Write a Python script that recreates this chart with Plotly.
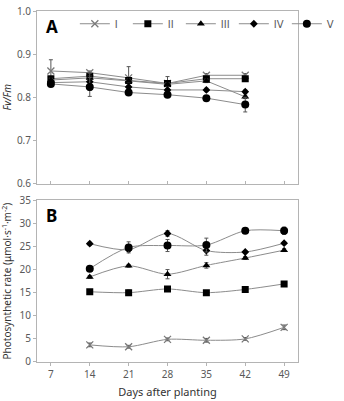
import plotly.graph_objects as go

# ---------------- data ----------------
days = [7, 14, 21, 28, 35, 42, 49]
series_names = ["I", "II", "III", "IV", "V"]

# Panel A: Fv/Fm (days 7..42)
days_a = [7, 14, 21, 28, 35, 42]
fvfm_I = [0.861, 0.857, 0.845, 0.832, 0.851, 0.851]
fvfm_II = [0.843, 0.849, 0.839, 0.832, 0.843, 0.843]
fvfm_III = [0.840, 0.845, 0.838, 0.830, 0.838, 0.801]
fvfm_IV = [0.834, 0.836, 0.824, 0.817, 0.817, 0.813]
fvfm_V = [0.831, 0.824, 0.811, 0.806, 0.798, 0.783]
fvfm_err_I = [0.026, 0.004, 0.026, 0.016, 0.004, 0.004]
fvfm_err_II = [0.004, 0.004, 0.004, 0.004, 0.004, 0.004]
fvfm_err_III = [0.004, 0.004, 0.004, 0.004, 0.004, 0.004]
fvfm_err_IV = [0.004, 0.020, 0.004, 0.004, 0.004, 0.004]
fvfm_err_V = [0.004, 0.022, 0.005, 0.006, 0.004, 0.017]

# Panel B: photosynthetic rate (days 14..49)
days_b = [14, 21, 28, 35, 42, 49]
pn_I = [3.7, 3.3, 4.9, 4.7, 5.0, 7.5]
pn_II = [15.2, 15.0, 15.8, 15.0, 15.7, 16.9]
pn_III = [18.4, 20.8, 19.0, 20.9, 22.5, 24.2]
pn_IV = [25.6, 24.3, 27.8, 24.1, 23.8, 25.7]
pn_V = [20.2, 24.8, 25.2, 25.3, 28.4, 28.4]
pn_err_I = [0.4, 0.3, 0.3, 0.4, 0.3, 0.5]
pn_err_II = [0.3, 0.6, 0.3, 0.3, 0.3, 0.3]
pn_err_III = [0.3, 0.3, 1.0, 0.6, 0.3, 0.3]
pn_err_IV = [0.3, 0.3, 0.6, 1.0, 0.3, 0.3]
pn_err_V = [0.3, 1.2, 1.3, 1.5, 0.3, 0.8]

# ---------------- styles ----------------
line_col = "#8c8c8c"
err_col = "#555555"
markers = [
    dict(symbol="x-thin-open", size=7, color="#7a7a7a", line=dict(width=1.3, color="#7a7a7a")),
    dict(symbol="square", size=7, color="black"),
    dict(symbol="triangle-up", size=7, color="black"),
    dict(symbol="diamond", size=6, color="black"),
    dict(symbol="circle", size=8, color="black"),
]

fa = [fvfm_I, fvfm_II, fvfm_III, fvfm_IV, fvfm_V]
fa_err = [fvfm_err_I, fvfm_err_II, fvfm_err_III, fvfm_err_IV, fvfm_err_V]
pb = [pn_I, pn_II, pn_III, pn_IV, pn_V]
pb_err = [pn_err_I, pn_err_II, pn_err_III, pn_err_IV, pn_err_V]

fig = go.Figure()
for i, name in enumerate(series_names):
    fig.add_trace(go.Scatter(
        x=days_a, y=fa[i], name=name, mode="lines+markers",
        line=dict(color=line_col, width=1), marker=markers[i],
        error_y=dict(type="data", array=fa_err[i], color=err_col, thickness=1, width=2),
        xaxis="x", yaxis="y", showlegend=True,
    ))
for i, name in enumerate(series_names):
    fig.add_trace(go.Scatter(
        x=days_b, y=pb[i], name=name, mode="lines+markers",
        line=dict(color=line_col, width=1, shape="spline", smoothing=0.8), marker=markers[i],
        error_y=dict(type="data", array=pb_err[i], color=err_col, thickness=1, width=2),
        xaxis="x2", yaxis="y2", showlegend=False,
    ))

W, H = 344, 401
ml, mr, mt, mb = 37, 4, 5, 38
ph = H - mt - mb
a_bottom = (H - mb - 181) / ph
b_top = (H - mb - 198) / ph

axis_common = dict(showline=True, linecolor="#b4b4b4", linewidth=1, mirror=True,
                   showgrid=False, zeroline=False,
                   tickfont=dict(family="Noto Sans", size=10, color="#595959"),
                   tickcolor="#b4b4b4", ticklen=3)
xr = [4.5, 51.5]
fig.update_layout(
    width=W, height=H,
    margin=dict(l=ml, r=mr, t=mt, b=mb),
    paper_bgcolor="white", plot_bgcolor="white",
    font=dict(family="Noto Sans", color="#333333"),
    xaxis=dict(domain=[0, 1], range=xr, tickvals=days, showticklabels=False,
               ticks="inside", anchor="y", **axis_common),
    yaxis=dict(domain=[a_bottom, 1], range=[0.6, 1.0], tickvals=[0.6, 0.7, 0.8, 0.9, 1.0],
               tickformat=".1f", ticks="outside", anchor="x",
               title=dict(text="<i>Fv/Fm</i>", font=dict(size=10, color="#333333"), standoff=6),
               **axis_common),
    xaxis2=dict(domain=[0, 1], range=xr, tickvals=days, ticks="outside", anchor="y2",
                title=dict(text="Days after planting", font=dict(size=11, color="#333333"), standoff=8),
                **axis_common),
    yaxis2=dict(domain=[0, b_top], range=[0, 35], tickvals=[0, 5, 10, 15, 20, 25, 30, 35],
                ticks="outside", anchor="x2",
                title=dict(text="Photosynthetic rate (μmol·s<sup>-1</sup>·m<sup>-2</sup>)",
                           font=dict(size=10, color="#333333"), standoff=6),
                **axis_common),
    legend=dict(orientation="h", x=0.145, y=1.005, xanchor="left", yanchor="top",
                font=dict(family="DejaVu Sans", size=10, color="#595959"),
                entrywidth=8, entrywidthmode="pixels", bgcolor="rgba(0,0,0,0)",
                itemwidth=30, tracegroupgap=0),
    annotations=[
        dict(text="<b>A</b>", x=0.025, y=0.995, xref="paper", yref="paper",
             xanchor="left", yanchor="top", showarrow=False,
             font=dict(family="Noto Sans", size=17, color="black")),
        dict(text="<b>B</b>", x=0.025, y=b_top - 0.005, xref="paper", yref="paper",
             xanchor="left", yanchor="top", showarrow=False,
             font=dict(family="Noto Sans", size=17, color="black")),
    ],
)

fig.write_html("out.html")
